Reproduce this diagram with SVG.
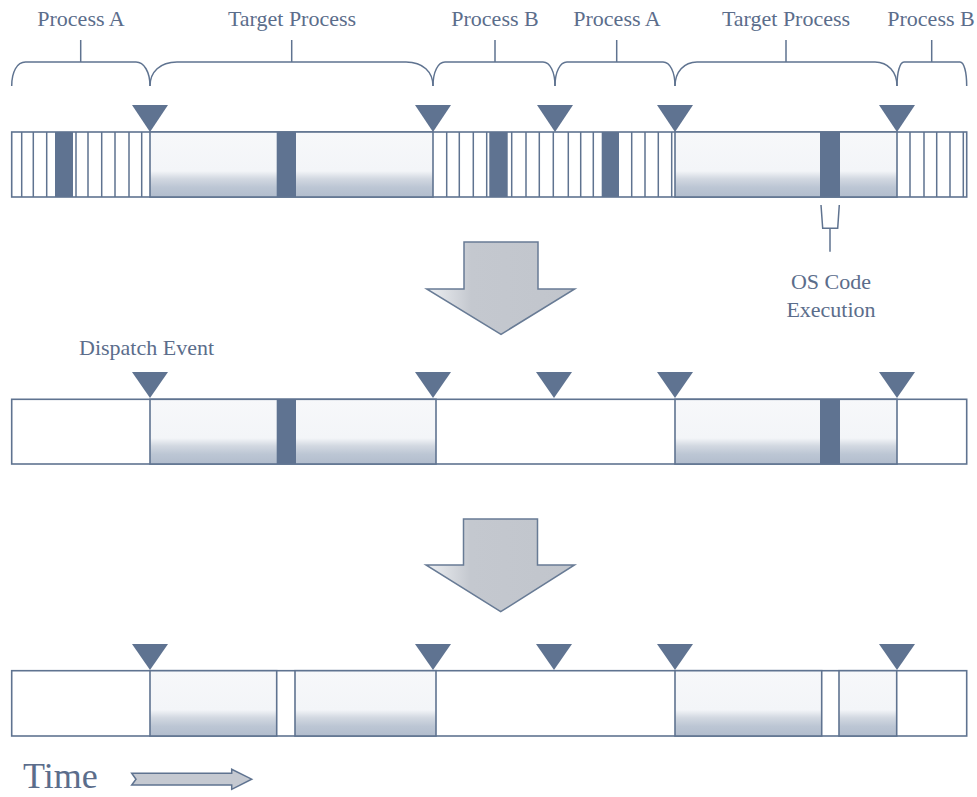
<svg xmlns="http://www.w3.org/2000/svg" width="977" height="797" viewBox="0 0 977 797">
<defs>
<linearGradient id="tg" x1="0" y1="0" x2="0" y2="1">
<stop offset="0" stop-color="#f7f8fa"/>
<stop offset="0.6" stop-color="#f3f5f8"/>
<stop offset="0.72" stop-color="#d2d8e1"/>
<stop offset="0.85" stop-color="#bcc6d4"/>
<stop offset="1" stop-color="#b2bdcd"/>
</linearGradient>
<linearGradient id="ag" x1="0" y1="0" x2="1" y2="0">
<stop offset="0" stop-color="#eef0f3"/>
<stop offset="0.3" stop-color="#c4c8cf"/>
<stop offset="1" stop-color="#c1c5cc"/>
</linearGradient>
<style>
.lbl{font-family:"Liberation Serif","Times New Roman",serif;font-size:22px;fill:#5b6d8b}
.out{fill:#fff;stroke:#5f7390;stroke-width:1.6}
.tgt{fill:url(#tg);stroke:#5f7390;stroke-width:1.6}
.dk{fill:#5f7391}
.st{stroke:#5f7390;stroke-width:1.5;fill:none}
.tri{fill:#5f7391}
.br{stroke:#5f7390;stroke-width:1.5;fill:none}
.big{fill:url(#ag);stroke:#687b95;stroke-width:1.5}
</style>
</defs>

<g id="labels">
<text class="lbl" x="81" y="26" text-anchor="middle">Process A</text>
<text class="lbl" x="292" y="26" text-anchor="middle">Target Process</text>
<text class="lbl" x="495" y="26" text-anchor="middle">Process B</text>
<text class="lbl" x="617" y="26" text-anchor="middle">Process A</text>
<text class="lbl" x="786" y="26" text-anchor="middle">Target Process</text>
<text class="lbl" x="931" y="26" text-anchor="middle">Process B</text>
</g>

<g id="braces" class="br">
<path d="M11.7 86 C11.7 72 17 62 25.5 62 L136 62 C144 62 150 72 150 86 M80.7 40 V62"/>
<path d="M150 86 C150 72 160 62 177 62 L406 62 C423 62 433 72 433 86 M291.7 40 V62"/>
<path d="M433 86 C433 72 438 62 445 62 L543 62 C550 62 555 72 555 86 M495 40 V62"/>
<path d="M555 86 C555 72 560 62 567 62 L663 62 C670 62 675 72 675 86 M616.7 40 V62"/>
<path d="M675 86 C675 72 684 62 697 62 L875 62 C888 62 897 72 897 86 M786 40 V62"/>
<path d="M897 86 C897 72 900 62 904 62 L960 62 C964 62 966.7 72 966.7 86 M931.7 40 V62"/>
</g>

<g id="bar-top">
<rect class="out" x="11.7" y="132" width="955" height="65"/>
<rect class="tgt" x="150" y="132" width="283" height="65"/>
<rect class="tgt" x="675" y="132" width="222" height="65"/>
<path class="st" d="M21.7 132V197M33.3 132V197M46.7 132V197M76 132V197M88 132V197M101.7 132V197M115 132V197M129 132V197M141.7 132V197M446.7 132V197M459.3 132V197M473.3 132V197M486.7 132V197M511.7 132V197M526 132V197M539.3 132V197M553.3 132V197M568.3 132V197M580.7 132V197M593.3 132V197M631.7 132V197M645 132V197M658.3 132V197M671.7 132V197M910 132V197M924 132V197M936.7 132V197M950 132V197M963.3 132V197"/>
<rect class="dk" x="55" y="132" width="18" height="65"/>
<rect class="dk" x="276.7" y="132" width="19.3" height="65"/>
<rect class="dk" x="489.3" y="132" width="18.4" height="65"/>
<rect class="dk" x="601.7" y="132" width="17.3" height="65"/>
<rect class="dk" x="820" y="132" width="20" height="65"/>
<polygon class="tri" points="132,105 168,105 150,132"/>
<polygon class="tri" points="415,105 451,105 433,132"/>
<polygon class="tri" points="537,105 573,105 555,132"/>
<polygon class="tri" points="657,105 693,105 675,132"/>
<polygon class="tri" points="879,105 915,105 897,132"/>
</g>

<g id="os-code">
<path class="br" d="M821 205 L822.7 228.3 L837.7 228.3 L839.3 205 M830 228.3 V251.7"/>
<text class="lbl" x="831" y="289" text-anchor="middle">OS Code</text>
<text class="lbl" x="831" y="317" text-anchor="middle">Execution</text>
</g>

<g id="arrow1">
<polygon class="big" points="464,242 538,242 538,289 574.7,289 501,334.3 426.7,289 464,289"/>
</g>

<g id="bar-mid">
<text class="lbl" x="79" y="355">Dispatch Event</text>
<rect class="out" x="11.7" y="399.3" width="955" height="64.7"/>
<rect class="tgt" x="150" y="399.3" width="286" height="64.7"/>
<rect class="tgt" x="675" y="399.3" width="222" height="64.7"/>
<rect class="dk" x="276.7" y="399.3" width="19.3" height="64.7"/>
<rect class="dk" x="820" y="399.3" width="20" height="64.7"/>
<polygon class="tri" points="132,372 168,372 150,398"/>
<polygon class="tri" points="415,372 451,372 433,398"/>
<polygon class="tri" points="536,372 572,372 554,398"/>
<polygon class="tri" points="657,372 693,372 675,398"/>
<polygon class="tri" points="879,372 915,372 897,398"/>
</g>

<g id="arrow2">
<polygon class="big" points="463.5,519 537.5,519 537.5,565 574.5,565 500.7,611.7 426,565 463.5,565"/>
</g>

<g id="bar-bottom">
<rect class="out" x="11.7" y="670.7" width="955" height="65.3"/>
<rect class="tgt" x="150" y="670.7" width="126.7" height="65.3"/>
<rect class="tgt" x="295" y="670.7" width="141" height="65.3"/>
<rect class="tgt" x="675" y="670.7" width="146.7" height="65.3"/>
<rect class="tgt" x="839" y="670.7" width="57.7" height="65.3"/>
<polygon class="tri" points="132,644 168,644 150,670"/>
<polygon class="tri" points="415,644 451,644 433,670"/>
<polygon class="tri" points="536,644 572,644 554,670"/>
<polygon class="tri" points="657,644 693,644 675,670"/>
<polygon class="tri" points="879,644 915,644 897,670"/>
</g>

<g id="time">
<text x="23" y="788" style="font-family:'Liberation Serif','Times New Roman',serif;font-size:36px;fill:#5b6d8b">Time</text>
<polygon points="131.7,773.3 231.7,773.3 231.7,769.3 251.7,779.2 231.7,789.3 231.7,785 131.7,785 136,779.2" style="fill:#c5c9d1;stroke:#5f7390;stroke-width:1.5"/>
</g>
</svg>
